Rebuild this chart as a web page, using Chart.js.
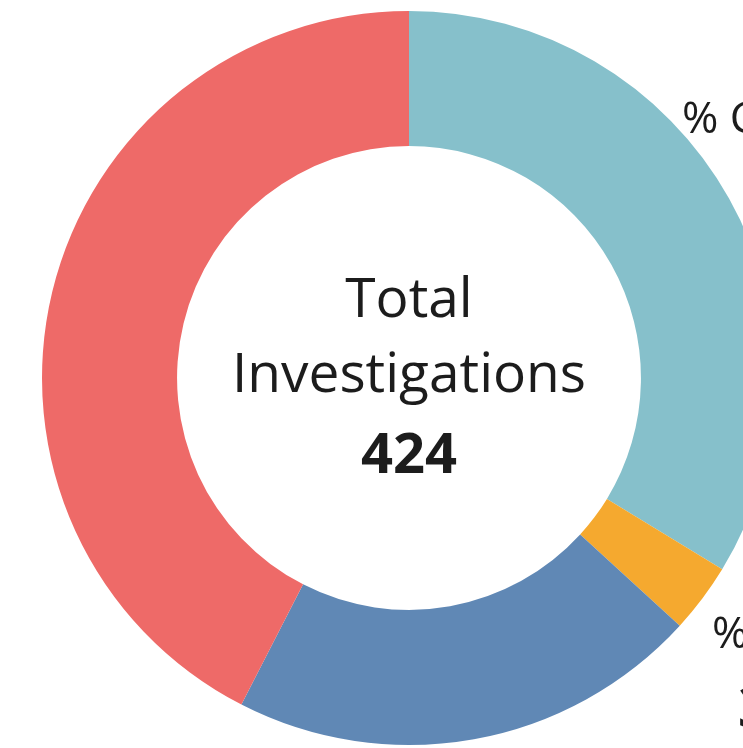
<!DOCTYPE html>
<html>
<head>
<meta charset="utf-8">
<script src="https://cdn.jsdelivr.net/npm/chart.js@4.4.1/dist/chart.umd.min.js"></script>
<style>
  html, body { margin: 0; padding: 0; background: #fff; overflow: hidden; width: 743px; height: 748px; }
  #wrap { position: absolute; left: 0; top: 0; width: 818px; height: 756px; }
</style>
</head>
<body>
<div id="wrap"><canvas id="donut" width="818" height="756"></canvas></div>
<script>
// investigations by status
const categories = ["% Closed", "% Other", "% Open", "% Pending"];
const counts = [143, 13, 88, 180];
const colors = ["#86c0cb", "#f5a92f", "#6088b5", "#ee6a68"];

const total = counts.reduce((a, b) => a + b, 0);

// where each outside label sits, relative to the ring centre
const labelSpots = [
  { x: 273, y: -245, x2: 345, y2: -166 },
  { x: 303, y: 270, x2: 329, y2: 349 },
  { x: 100, y: 420, x2: 120, y2: 500 },
  { x: -370, y: 420, x2: -350, y2: 500 }
];

const textFont = '"Open Sans", "Noto Sans", sans-serif';

const centerText = {
  id: "centerText",
  afterDraw(chart) {
    const arc = chart.getDatasetMeta(0).data[0];
    const cx = arc.x, cy = arc.y;
    const ctx = chart.ctx;
    ctx.save();
    ctx.fillStyle = "#1c1c1c";
    ctx.textAlign = "center";
    ctx.textBaseline = "alphabetic";
    ctx.font = "400 55px " + textFont;
    ctx.fillText("Total", cx, cy - 61);
    ctx.fillText("Investigations", cx, cy + 14);
    ctx.font = "700 56px " + textFont;
    ctx.fillText(String(total), cx, cy + 95);

    ctx.textAlign = "left";
    categories.forEach((name, i) => {
      const s = labelSpots[i];
      ctx.font = "400 44px " + textFont;
      ctx.fillText(name, cx + s.x, cy + s.y);
      ctx.font = "700 56px " + textFont;
      ctx.fillText(Math.round(counts[i] / total * 100) + "%", cx + s.x2, cy + s.y2);
    });
    ctx.restore();
  }
};

new Chart(document.getElementById("donut"), {
  type: "doughnut",
  data: {
    labels: categories,
    datasets: [{
      data: counts,
      backgroundColor: colors,
      borderWidth: 0,
      hoverOffset: 0
    }]
  },
  options: {
    responsive: false,
    animation: false,
    events: [],
    cutout: "63.2%",
    layout: { padding: 11 },
    plugins: {
      legend: { display: false },
      tooltip: { enabled: false }
    }
  },
  plugins: [centerText]
});
</script>
</body>
</html>
